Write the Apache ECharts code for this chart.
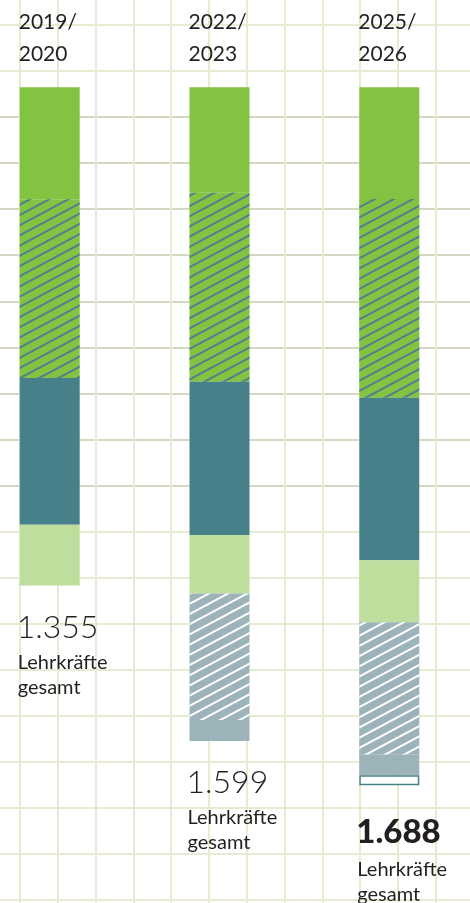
<!DOCTYPE html>
<html><head><meta charset="utf-8">
<script src="https://cdn.jsdelivr.net/npm/echarts@6/dist/echarts.min.js"></script>
<style>html,body{margin:0;padding:0;background:#fff;}#c{width:470px;height:903px;}</style>
</head><body><div id="c"></div>
<script>
// ---- data ----
const categories = ['2019/2020', '2022/2023', '2025/2026'];
const yearLabels = ['2019/\n2020', '2022/\n2023', '2025/\n2026'];
const totalLabels = ['1.355', '1.599', '1.688'];
const unitLabel = ['Lehrkräfte', 'gesamt'];
const greenSolid = [271, 255, 270];
const greenHatched = [432, 457, 481];
const tealSolid = [355, 371, 393];
const lightGreen = [147, 141, 150];
const greyHatched = [null, 306, 320];
const greySolid = [null, 51, 50];
const whiteBox = [null, null, 24];
const highlightIndex = 2;

// ---- styles ----
const FONT = 'Lato, "Open Sans", sans-serif';
const TEXT = '#231f20';
const hGridColors = [];
for (let k = 0; k <= 21; k++) hGridColors.push(k >= 3 && k <= 11 ? '#d3d9c3' : '#e2edd2');

function bar(name, data, itemStyle) {
  return { type: 'bar', name, data, stack: 'total', barWidth: 60, xAxisIndex: 0, yAxisIndex: 0,
    itemStyle, silent: true, z: 3 };
}

const option = {
  animation: false,
  backgroundColor: '#ffffff',
  grid: [
    { left: -35.2, top: 87.3, width: 509.4, height: 1900 * 0.4135, outerBoundsMode: 'none', containLabel: false },
    { left: -17.8, top: -21.05, width: 13 * 37.8, height: 21 * 46.05, outerBoundsMode: 'none', containLabel: false }
  ],
  xAxis: [
    { gridIndex: 0, type: 'category', data: categories, show: false },
    { gridIndex: 1, type: 'value', min: 0, max: 13, interval: 1,
      axisLine: { show: false }, axisTick: { show: false }, axisLabel: { show: false },
      splitLine: { show: true, lineStyle: { color: '#e2edd2', width: 2 } } }
  ],
  yAxis: [
    { gridIndex: 0, type: 'value', min: 0, max: 1900, inverse: true, show: false },
    { gridIndex: 1, type: 'value', min: 0, max: 21, interval: 1, inverse: true,
      axisLine: { show: false }, axisTick: { show: false }, axisLabel: { show: false },
      splitLine: { show: true, lineStyle: { color: hGridColors, width: 2 } } }
  ],
  series: [
    bar('Grün', greenSolid, { color: '#84c341' }),
    bar('Grün schraffiert', greenHatched, { color: '#84c341',
      decal: { symbol: 'rect', color: '#4f7f8f', dashArrayX: [1, 0], dashArrayY: [1.5, 6.8], rotation: -0.49 } }),
    bar('Petrol', tealSolid, { color: '#48808a' }),
    bar('Hellgrün', lightGreen, { color: '#bfdd9c' }),
    bar('Grau schraffiert', greyHatched, { color: '#9bb3b9',
      decal: { symbol: 'rect', color: '#ffffff', dashArrayX: [1, 0], dashArrayY: [1.5, 6.8], rotation: -0.49 } }),
    bar('Grau', greySolid, { color: '#9bb3b9', borderColor: '#d3dbdc', borderWidth: 0 }),
    bar('Weiß', whiteBox, { color: '#ffffff', borderColor: '#4a8088', borderWidth: 1.5 })
  ]
};

const chart = echarts.init(document.getElementById('c'), null, { renderer: 'canvas' });
chart.setOption(option);

const stacks = [greenSolid, greenHatched, tealSolid, lightGreen, greyHatched, greySolid, whiteBox];
const graphics = [];
categories.forEach((c, i) => {
  const cx = chart.convertToPixel({ xAxisIndex: 0 }, i);
  const left = cx - 30;
  let sum = 0;
  stacks.forEach(s => { sum += s[i] || 0; });
  const yBottom = chart.convertToPixel({ yAxisIndex: 0 }, sum);
  graphics.push({
    type: 'text', left: left - 1, top: 6, z: 10, silent: true,
    style: { text: yearLabels[i], fill: TEXT, font: '21px ' + FONT, lineHeight: 32 }
  });
  const bold = i === highlightIndex;
  graphics.push({
    type: 'text', x: left - 3, y: yBottom + (bold ? 22 : 20), z: 10, silent: true,
    style: {
      text: '{n|' + totalLabels[i] + '}\n{t|' + unitLabel[0] + '}\n{t|' + unitLabel[1] + '}',
      fill: TEXT,
      rich: {
        n: { fontSize: bold ? 33 : 32, fontWeight: bold ? 900 : 300, fontFamily: FONT, lineHeight: bold ? 50 : 44, fill: TEXT },
        t: { fontSize: 20, fontFamily: FONT, lineHeight: 25, fill: TEXT, padding: [0, 0, 0, 1] }
      }
    }
  });
});
chart.setOption({ graphic: graphics });
</script>
</body></html>
